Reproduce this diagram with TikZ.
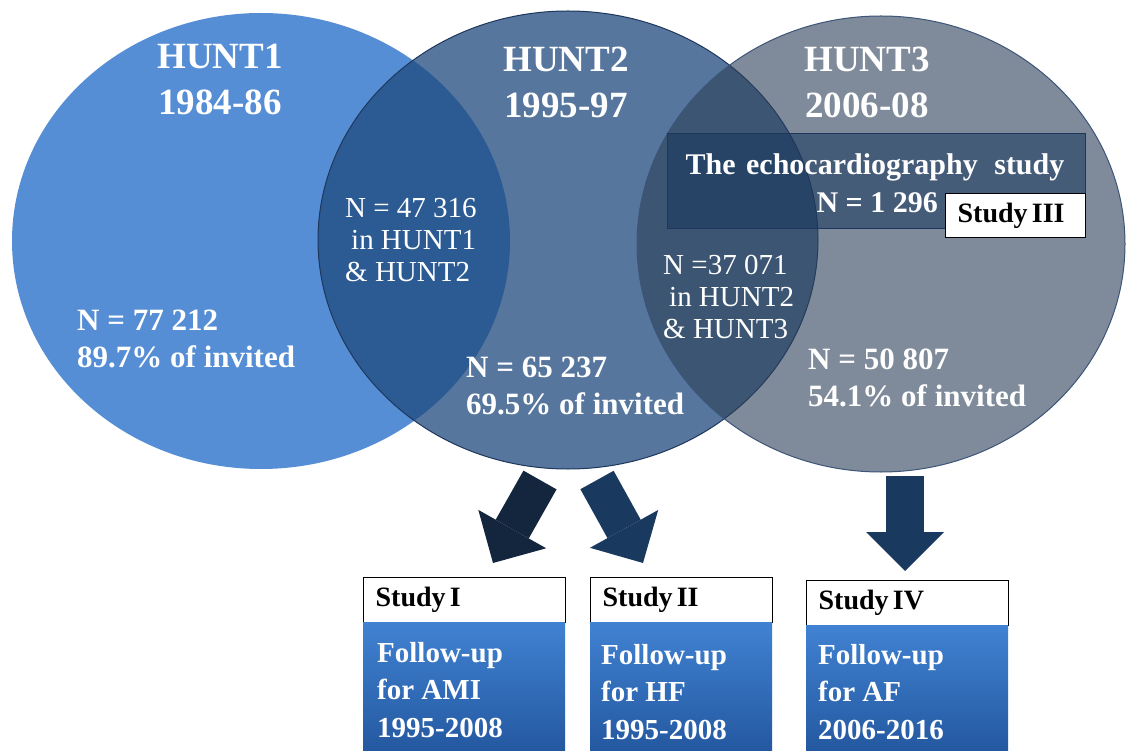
\documentclass[tikz,border=0pt]{standalone}
\usepackage{fontspec}
\setmainfont{Liberation Serif}
\usetikzlibrary{arrows.meta,shapes.geometric}
\definecolor{c1fill}{RGB}{85,142,213}
\definecolor{c2fill}{RGB}{31,73,125}
\definecolor{c3fill}{RGB}{43,63,88}
\definecolor{echofill}{RGB}{23,55,94}
\definecolor{edgeA}{RGB}{30,55,92}
\definecolor{edgeB}{RGB}{60,85,120}
\definecolor{boxtop}{RGB}{64,130,210}
\definecolor{boxbot}{RGB}{36,88,160}
\definecolor{arrA}{RGB}{19,38,62}
\definecolor{arrB}{RGB}{26,57,95}
\begin{document}
\begin{tikzpicture}[x=1pt,y=-1pt,
  venn/.style={ellipse, inner sep=0pt, minimum width=496pt, minimum height=456pt},
  titletext/.style={text=white, font=\fontsize{37}{46}\selectfont\bfseries, align=center, anchor=north, inner sep=0pt},
  stat/.style={text=white, font=\fontsize{31}{37}\selectfont\bfseries, align=left, anchor=north west, inner sep=0pt},
  overlap/.style={text=white, font=\rmfamily\fontsize{29}{32}\selectfont, align=left, anchor=north west, inner sep=0pt},
  echotext/.style={text=white, font=\fontsize{30}{36}\selectfont\bfseries, inner sep=0pt},
  hdr/.style={draw=black, line width=1.3pt, fill=white, anchor=north west, text=black,
    font=\fontsize{28}{30}\selectfont\bfseries, align=left, inner xsep=12pt, inner ysep=0pt},
  bodybox/.style={draw=none, top color=boxtop, bottom color=boxbot, anchor=north west, inner sep=0pt},
  bodytext/.style={text=white, font=\fontsize{29}{37.5}\selectfont\bfseries, align=left, anchor=north west, inner sep=0pt},
  barrow/.style={line width=38pt, -{Triangle[length=39pt,width=78pt,line width=0pt]}}
]
\useasboundingbox (0,0) rectangle (1127,751);
\fill[white] (0,0) rectangle (1127,751);

% arrows
\coordinate (a1s) at (540,480);
\coordinate (a1e) at (493,563);
\coordinate (a2s) at (597,480);
\coordinate (a2e) at (643,563);
\coordinate (a3s) at (905,476);
\coordinate (a3e) at (905,571);
\draw[barrow, draw=arrA, fill=arrA] (a1s) -- (a1e);
\draw[barrow, draw=arrB, fill=arrB] (a2s) -- (a2e);
\draw[barrow, draw=arrB, fill=arrB] (a3s) -- (a3e);

% circles
\node[venn, fill=c1fill, minimum width=498pt] (c1) at (261,241) {};
\node[venn, fill=c2fill, fill opacity=0.75, draw=edgeA, line width=1pt, minimum width=500pt, minimum height=458pt] (c2) at (568,240) {};
\node[venn, fill=c3fill, fill opacity=0.6, draw=edgeB, line width=1pt, minimum width=488pt] (c3) at (881,244) {};

% echo study box
\node[draw=edgeA, line width=0.8pt, fill=echofill, fill opacity=0.55, anchor=north west,
  minimum width=418pt, minimum height=95pt, inner sep=0pt] (echo) at (667,133) {};
\node[echotext, anchor=base] (echot) at (875,175) {The\hspace{0.35em}echocardiography\hspace{0.55em}study};
\node[echotext, anchor=base east] (echon) at (938,213) {N = 1 296};
\node[hdr, minimum width=140pt, minimum height=44pt, text width=116pt] (s3h) at (945,193) {Study\hspace{0.15em}III};

% titles
\node[titletext] (t1) at (220,44) {HUNT1\\1984-86};
\node[titletext] (t2) at (566,47) {HUNT2\\1995-97};
\node[titletext] (t3) at (867,47) {HUNT3\\2006-08};

% stats
\node[stat] (n1) at (77,310) {N = 77 212\\89.7\% of invited};
\node[stat] (n2) at (466,357) {N = 65 237\\69.5\% of invited};
\node[stat] (n3) at (808,349) {N = 50 807\\54.1\% of invited};

% overlaps
\node[overlap] (o12) at (345,198) {N = 47 316\\\hspace*{6pt}in HUNT1\\\& HUNT2};
\node[overlap] (o23) at (663,255) {N =37 071\\\hspace*{6pt}in HUNT2\\\& HUNT3};

% bottom boxes
\node[hdr, minimum width=202pt, minimum height=45pt, text width=178pt] (s1h) at (363,577) {Study\hspace{0.15em}I};
\node[bodybox, minimum width=202pt, minimum height=130pt] (s1b) at (363,622) {};
\node[bodytext] (s1t) at (377,642) {Follow-up\\for AMI\\1995-2008};

\node[hdr, minimum width=182pt, minimum height=45pt, text width=158pt] (s2h) at (590,577) {Study\hspace{0.15em}II};
\node[bodybox, minimum width=182pt, minimum height=130pt] (s2b) at (590,622) {};
\node[bodytext] (s2t) at (601,644) {Follow-up\\for HF\\1995-2008};

\node[hdr, minimum width=202pt, minimum height=45pt, text width=178pt] (s4h) at (806,580) {Study\hspace{0.15em}IV};
\node[bodybox, minimum width=202pt, minimum height=127pt] (s4b) at (806,625) {};
\node[bodytext] (s4t) at (818,644) {Follow-up\\for AF\\2006-2016};
\end{tikzpicture}
\end{document}
